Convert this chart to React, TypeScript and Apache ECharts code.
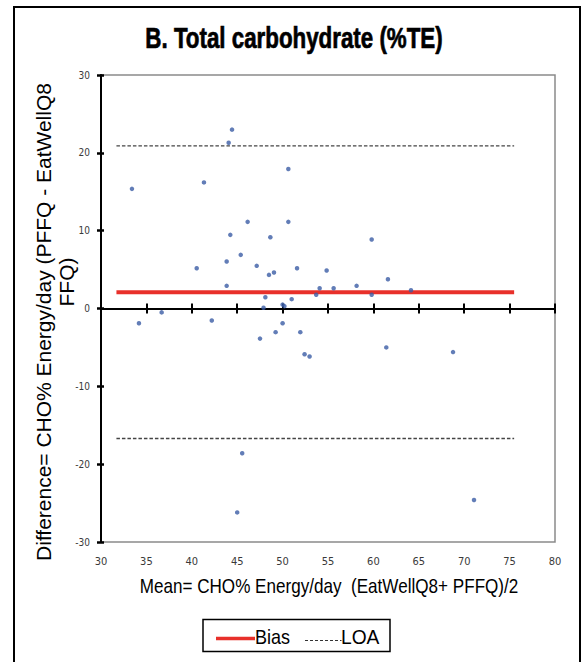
import React, { useEffect, useRef } from "react";
import * as echarts from "echarts";

// ---- Data ----
const meanValues = [
  33.41, 44.43, 44.06, 41.34, 50.63, 46.15, 50.63, 44.24, 48.65, 45.39,
  43.84, 40.54, 47.15, 48.5, 49.05, 51.59, 54.85, 43.84, 54.08, 55.62,
  53.7, 48.1, 51.0, 47.9, 50.0, 50.2, 36.68, 42.2, 34.18, 50.0,
  49.23, 51.95, 47.51, 52.42, 52.97, 45.55, 45.0, 59.81, 61.6, 58.15,
  64.14, 59.81, 61.42, 68.77, 71.08,
];
const diffValues = [
  15.37, 22.98, 21.3, 16.2, 17.93, 11.13, 11.13, 9.46, 9.15, 6.89,
  6.03, 5.18, 5.48, 4.32, 4.62, 5.18, 4.88, 2.91, 2.61, 2.61,
  1.76, 1.45, 1.2, 0.09, 0.5, 0.3, -0.5, -1.55, -1.89, -1.89,
  -3.04, -3.04, -3.87, -5.87, -6.16, -18.6, -26.2, 8.86, 3.76, 2.91,
  2.35, 1.76, -5.0, -5.6, -24.6,
];
const biasValue = 2.1;
const upperLOA = 20.9;
const lowerLOA = -16.7;
const refLineX = [31.7, 75.5];
const xRange = [30, 80];
const xStep = 5;
const yRange = [-30, 30];
const yStep = 10;

const titleText = "B. Total carbohydrate (%TE)";
const xAxisTitle = "Mean= CHO% Energy/day\u00a0\u00a0(EatWellQ8+ PFFQ)/2";
const yAxisTitleLines = ["Difference= CHO% Energy/day (PFFQ - EatWellQ8", "FFQ)"];
const legendLabels = ["Bias", "LOA"];

const SANS = "'Liberation Sans', Arial, Helvetica, sans-serif";
const NARROW = "'Liberation Sans Narrow', 'DejaVu Sans Condensed', 'Liberation Sans', sans-serif";

export default function App() {
  const ref = useRef<HTMLDivElement>(null);

  useEffect(() => {
    if (!ref.current) return;
    const chart = echarts.init(ref.current, undefined, { renderer: "svg" });

    const points = meanValues.map((m, i) => [m, diffValues[i]]);
    const refLine = (v: number) => refLineX.map((x) => [x, v]);

    const baseX = {
      type: "value" as const,
      min: xRange[0],
      max: xRange[1],
      interval: xStep,
      position: "bottom" as const,
      splitLine: { show: false },
    };
    const baseY = {
      type: "value" as const,
      min: yRange[0],
      max: yRange[1],
      interval: yStep,
      position: "left" as const,
      splitLine: { show: false },
    };

    chart.setOption({
      animation: false,
      backgroundColor: "#ffffff",
      grid: {
        left: 101,
        right: 30,
        top: 75,
        bottom: 120,
        show: true,
        borderColor: "#8a8a8a",
        borderWidth: 1.5,
        backgroundColor: "transparent",
      },
      xAxis: [
        {
          ...baseX,
          axisLine: { show: true, onZero: true, lineStyle: { color: "#000", width: 2 } },
          axisTick: { show: true, inside: false, length: 5, lineStyle: { color: "#000", width: 2 } },
          axisLabel: { show: false },
        },
        {
          ...baseX,
          axisLine: { show: false, onZero: true },
          axisTick: { show: true, inside: true, length: 5, lineStyle: { color: "#000", width: 2 } },
          axisLabel: { show: false },
        },
        {
          ...baseX,
          axisLine: { show: false, onZero: false },
          axisTick: { show: false },
          axisLabel: {
            show: true,
            margin: 14,
            fontSize: 11,
            color: "#3a3a3a",
            fontFamily: NARROW,
          },
        },
      ],
      yAxis: [
        {
          ...baseY,
          axisLine: { show: true, onZero: false, lineStyle: { color: "#000", width: 2 } },
          axisTick: { show: true, inside: false, length: 4, lineStyle: { color: "#000", width: 2.5 } },
          axisLabel: {
            show: true,
            margin: 11,
            fontSize: 10,
            color: "#3a3a3a",
            fontFamily: NARROW,
          },
        },
        {
          ...baseY,
          axisLine: { show: false, onZero: false },
          axisTick: { show: true, inside: true, length: 3, lineStyle: { color: "#000", width: 2.5 } },
          axisLabel: { show: false },
        },
      ],
      series: [
        {
          name: "LOA upper",
          type: "line",
          data: refLine(upperLOA),
          showSymbol: false,
          silent: true,
          lineStyle: { color: "#444", width: 1.3, type: [3.5, 2] },
          z: 2,
        },
        {
          name: "LOA lower",
          type: "line",
          data: refLine(lowerLOA),
          showSymbol: false,
          silent: true,
          lineStyle: { color: "#444", width: 1.3, type: [3.5, 2] },
          z: 2,
        },
        {
          name: "Bias",
          type: "line",
          data: refLine(biasValue),
          showSymbol: false,
          silent: true,
          lineStyle: { color: "#e8302a", width: 4 },
          z: 3,
        },
        {
          name: "Difference",
          type: "scatter",
          data: points,
          symbol: "circle",
          symbolSize: 4.5,
          itemStyle: { color: "#3b5ca5" },
          z: 4,
        },
      ],
      graphic: [
        {
          type: "rect",
          shape: { x: 14, y: 7, width: 566, height: 680 },
          style: { fill: "none", stroke: "#000", lineWidth: 2 },
          silent: true,
          z: 0,
        },
        {
          type: "text",
          x: 294,
          y: 38,
          scaleX: 0.77,
          style: {
            text: titleText,
            fontSize: 29,
            fontWeight: "bold",
            fontFamily: SANS,
            fill: "#000",
            stroke: "#000",
            lineWidth: 0.7,
            textAlign: "center",
            textVerticalAlign: "middle",
          },
        },
        {
          type: "text",
          x: 329,
          y: 586,
          scaleX: 0.855,
          style: {
            text: xAxisTitle,
            fontSize: 20,
            fontFamily: SANS,
            fill: "#000",
            textAlign: "center",
            textVerticalAlign: "middle",
          },
        },
        {
          type: "text",
          x: 44,
          y: 322,
          rotation: Math.PI / 2,
          scaleY: 0.92,
          style: {
            text: yAxisTitleLines[0],
            fontSize: 21,
            fontFamily: SANS,
            fill: "#000",
            textAlign: "center",
            textVerticalAlign: "middle",
          },
        },
        {
          type: "text",
          x: 67,
          y: 282,
          rotation: Math.PI / 2,
          scaleY: 0.92,
          style: {
            text: yAxisTitleLines[1],
            fontSize: 21,
            fontFamily: SANS,
            fill: "#000",
            textAlign: "center",
            textVerticalAlign: "middle",
          },
        },
        {
          type: "rect",
          shape: { x: 203, y: 619.5, width: 187, height: 32 },
          style: { fill: "#fff", stroke: "#000", lineWidth: 1.5 },
        },
        {
          type: "line",
          shape: { x1: 216, y1: 638.5, x2: 255, y2: 638.5 },
          style: { stroke: "#e8302a", lineWidth: 3.5 },
        },
        {
          type: "text",
          x: 255,
          y: 637,
          scaleX: 0.9,
          style: {
            text: legendLabels[0],
            fontSize: 20,
            fontFamily: SANS,
            fill: "#000",
            textAlign: "left",
            textVerticalAlign: "middle",
          },
        },
        {
          type: "line",
          shape: { x1: 305, y1: 640.5, x2: 341.5, y2: 640.5 },
          style: { stroke: "#333", lineWidth: 1, lineDash: [3, 2] },
        },
        {
          type: "text",
          x: 341,
          y: 637,
          scaleX: 0.96,
          style: {
            text: legendLabels[1],
            fontSize: 20,
            fontFamily: SANS,
            fill: "#000",
            textAlign: "left",
            textVerticalAlign: "middle",
          },
        },
      ],
    });

    return () => chart.dispose();
  }, []);

  return (
    <div
      ref={ref}
      style={{ position: "fixed", left: 0, top: 0, width: 585, height: 662, background: "#fff" }}
    />
  );
}
